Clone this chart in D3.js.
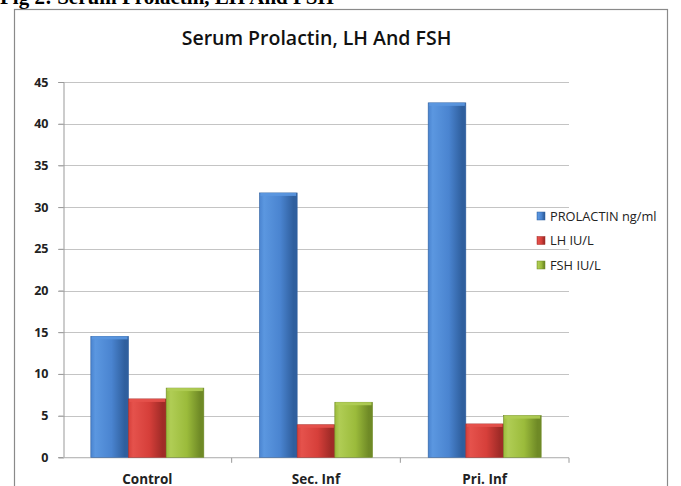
<!DOCTYPE html>
<html><head><meta charset="utf-8">
<script src="https://cdn.jsdelivr.net/npm/d3@7/dist/d3.min.js"></script>
<style>body{margin:0;background:#fff}svg{display:block}</style>
</head><body><div id="chart"></div>
<script>
const categories = ["Control", "Sec. Inf", "Pri. Inf"];
const seriesNames = ["PROLACTIN ng/ml", "LH IU/L", "FSH IU/L"];
const prolactin = [14.5, 31.7, 42.5];
const lh = [7.0, 3.9, 4.0];
const fsh = [8.3, 6.6, 5.0];
const yTicks = [0, 5, 10, 15, 20, 25, 30, 35, 40, 45];
const seriesValues = [prolactin, lh, fsh];
const colors = [
  {light:"#5b97e0", mid:"#4a84d0", dark:"#2f5f9e"},
  {light:"#e5524c", mid:"#d63f3a", dark:"#a02b27"},
  {light:"#b0cd55", mid:"#9bbb3b", dark:"#6f8a26"}
];
const FONT = "Open Sans, Lato, sans-serif";

const W = 681, H = 486;
const svg = d3.select("#chart").append("svg").attr("width", W).attr("height", H);
const defs = svg.append("defs");
colors.forEach((c, i) => {
  const g = defs.append("linearGradient").attr("id", "g" + i).attr("x1", "0").attr("x2", "1").attr("y1", "0").attr("y2", "0");
  g.append("stop").attr("offset", "0").attr("stop-color", c.mid);
  g.append("stop").attr("offset", "0.12").attr("stop-color", c.light);
  g.append("stop").attr("offset", "0.55").attr("stop-color", c.mid);
  g.append("stop").attr("offset", "0.9").attr("stop-color", c.dark);
  g.append("stop").attr("offset", "1").attr("stop-color", c.dark);
});

// caption
svg.append("text").attr("x", 0).attr("y", 4)
  .attr("font-family", "Liberation Serif, Times New Roman, serif").attr("font-weight", "bold")
  .attr("font-size", 21).attr("fill", "#000").text("Fig 2: Serum Prolactin, LH And FSH");

// frame
svg.append("rect").attr("x", 14.5).attr("y", 9.5).attr("width", 653).attr("height", 500)
  .attr("fill", "#fff").attr("stroke", "#8a8a8a").attr("stroke-width", 1.2);

svg.append("text").attr("x", 316.5).attr("y", 45).attr("text-anchor", "middle")
  .attr("font-family", FONT).attr("font-weight", 600)
  .attr("font-size", 19.5).attr("fill", "#111").text("Serum Prolactin, LH And FSH");

const pLeft = 63, pRight = 569, pTop = 82, pBottom = 457.3;
const x = d3.scaleBand().domain(categories).range([pLeft, pRight]).paddingInner(0).paddingOuter(0);
const y = d3.scaleLinear().domain([0, 45]).range([pBottom, pTop]);
const groupPad = 0.165;
const xs = d3.scaleBand().domain(d3.range(seriesNames.length)).range([x.bandwidth() * groupPad, x.bandwidth() * (1 - groupPad)]);

// gridlines
svg.append("g").selectAll("line").data(yTicks).join("line")
  .attr("x1", pLeft - 5).attr("x2", pRight)
  .attr("y1", d => Math.round(y(d)) + 0.5).attr("y2", d => Math.round(y(d)) + 0.5)
  .attr("stroke", "#c4c4c4").attr("stroke-width", 1.2);

// y axis
const yAxis = svg.append("g").attr("transform", `translate(${pLeft + 0.5},0)`)
  .call(d3.axisLeft(y).tickValues(yTicks).tickSize(5).tickPadding(10));
yAxis.select(".domain").attr("stroke", "#999");
yAxis.selectAll(".tick line").attr("stroke", "#999");
yAxis.selectAll("text").attr("font-family", FONT).attr("font-weight", "bold")
  .attr("font-size", 12.5).attr("fill", "#222");

// x axis
const xAxis = svg.append("g").attr("transform", `translate(0,${pBottom + 0.5})`);
xAxis.append("line").attr("x1", pLeft).attr("x2", pRight).attr("stroke", "#bbb");
xAxis.selectAll("line.t").data(categories.map((c,i)=>x.range()[0] + x.step()*(i+1))).join("line").attr("class","t")
  .attr("x1", d => d).attr("x2", d => d).attr("y1", 0).attr("y2", 5).attr("stroke", "#999");
xAxis.selectAll("text").data(categories).join("text")
  .attr("x", d => x(d) + x.bandwidth() / 2).attr("y", 26).attr("text-anchor", "middle")
  .attr("font-family", FONT).attr("font-weight", "bold")
  .attr("font-size", 13.5).attr("fill", "#222").text(d => d);

// bars
const groups = svg.append("g").selectAll("g").data(categories).join("g")
  .attr("transform", d => `translate(${x(d)},0)`);
groups.each(function(cat, ci) {
  const g = d3.select(this);
  seriesValues.forEach((vals, si) => {
    const bx = xs(si), bw = xs.bandwidth(), by = y(vals[ci]), bh = pBottom - y(vals[ci]);
    g.append("rect").attr("x", bx).attr("y", by).attr("width", bw).attr("height", bh)
      .attr("fill", `url(#g${si})`).attr("stroke", colors[si].dark).attr("stroke-width", 0.6);
    g.append("rect").attr("x", bx + 1).attr("y", by).attr("width", bw - 2).attr("height", 3)
      .attr("fill", colors[si].light).attr("opacity", 0.9);
  });
});

// legend
const lg = svg.append("g").attr("transform", "translate(537,216)");
seriesNames.forEach((n, i) => {
  const row = lg.append("g").attr("transform", `translate(0,${i * 24.5})`);
  row.append("rect").attr("x", 0).attr("y", -4).attr("width", 8).attr("height", 8)
    .attr("fill", `url(#g${i})`).attr("stroke", colors[i].dark).attr("stroke-width", 0.5);
  row.append("text").attr("x", 13).attr("y", 4.5).attr("font-family", FONT)
    .attr("font-size", 12.8).attr("fill", "#222").text(n);
});
</script></body></html>
